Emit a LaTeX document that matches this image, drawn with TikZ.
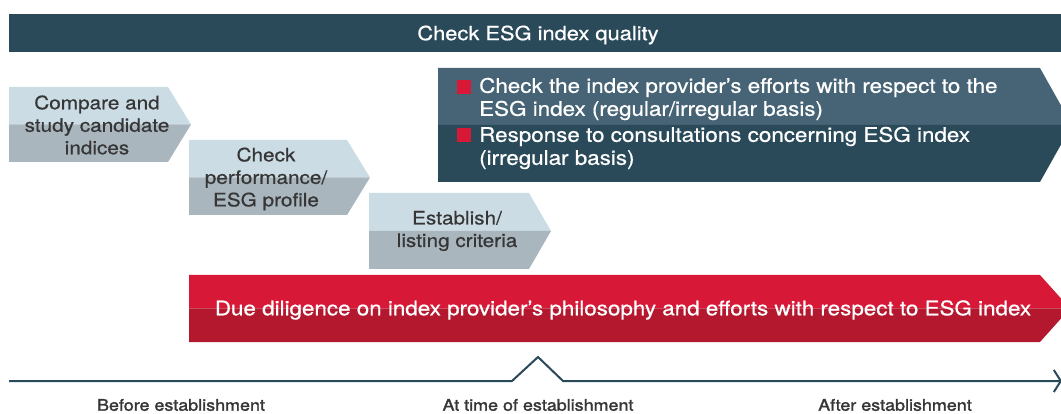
\documentclass[tikz,border=0pt]{standalone}
\usepackage{fontspec}
\setmainfont{TeX Gyre Heros}[FakeStretch=1.12,FakeBold=0.6]
\newfontfamily\phasefont{TeX Gyre Heros}[FakeStretch=1.12,FakeBold=1.6]
\usetikzlibrary{arrows.meta,positioning}
\definecolor{esgdark}{HTML}{2A4A5A}
\definecolor{esgmid}{HTML}{466475}
\definecolor{esglight}{HTML}{CBDCE5}
\definecolor{esggray}{HTML}{A9B6BD}
\definecolor{esgred}{HTML}{D71837}
\definecolor{esgdeepred}{HTML}{B4182F}
\definecolor{esgtext}{HTML}{363636}
% two-tone chevron: left, top, body right, tip, bottom, upper colour, lower colour
\newcommand{\chevronfill}[7]{%
  \fill[#6] (#1,#2) -- (#3,#2) -- (#4,{(#2+#5)/2}) -- (#1,{(#2+#5)/2}) -- cycle;
  \fill[#7] (#1,{(#2+#5)/2}) -- (#4,{(#2+#5)/2}) -- (#3,#5) -- (#1,#5) -- cycle;}
\tikzset{
  steptxt/.style={font=\fontsize{18.5}{22.5}\selectfont,text=esgtext,align=center,inner sep=0pt},
  wtxt/.style={font=\fontsize{20}{23}\selectfont,text=white,inner sep=0pt},
  itemtxt/.style={wtxt,align=left,anchor=west},
  bullet/.style={rectangle,fill=esgred,minimum size=14pt,inner sep=0pt},
  phaselbl/.style={font=\phasefont\fontsize{16}{18}\selectfont,text=esgtext,inner sep=0pt},
  timeline/.style={draw=esgdark,line width=2pt}
}
\begin{document}
\begin{tikzpicture}[x=1pt,y=-1pt]
  \clip (0,0) rectangle (1061,414);

  % header bar
  \fill[esgdark] (9,14) rectangle (1061,52);
  \node[wtxt,font=\fontsize{19.5}{23}\selectfont] (quality) at (538,35) {Check ESG index quality};

  % steps before establishment
  \chevronfill{9}{87}{168}{191}{162}{esglight}{esggray}
  \node[steptxt] (compare) at (97,125) {Compare and\\study candidate\\indices};
  \chevronfill{189}{140}{347}{370}{215}{esglight}{esggray}
  \node[steptxt] (perf) at (266,179) {Check\\performance/\\ESG profile};
  \chevronfill{369}{193}{529}{551}{269}{esglight}{esggray}
  \node[steptxt] (listing) at (457,231) {Establish/\\listing criteria};

  % ongoing checks
  \chevronfill{438}{68}{1040}{1072}{182}{esgmid}{esgdark}
  \node[bullet] (b1) at (464,87.5) {};
  \node[itemtxt] (efforts) at (479,99) {Check the index provider’s efforts with respect to the\\ESG index (regular/irregular basis)};
  \node[bullet] (b2) at (464,135.5) {};
  \node[itemtxt] (consult) at (479,148) {Response to consultations concerning ESG index\\(irregular basis)};

  % due diligence
  \chevronfill{189}{275}{1040}{1070}{342}{esgred}{esgdeepred}
  \node[wtxt] (dd) at (623,310) {Due diligence on index provider’s philosophy and efforts with respect to ESG index};

  % time axis
  \coordinate (t0) at (9,381);
  \coordinate (bumpl) at (512,381);
  \coordinate (bumptop) at (538,357);
  \coordinate (bumpr) at (563,381);
  \coordinate (t1) at (1062,381);
  \draw[timeline,-{Straight Barb[length=7pt,width=22pt]}] (t0) -- (bumpl) -- (bumptop) -- (bumpr) -- (t1);

  \node[phaselbl] (before) at (181,405) {Before establishment};
  \node[phaselbl] (at) at (538,405) {At time of establishment};
  \node[phaselbl] (after) at (895,405) {After establishment};
\end{tikzpicture}
\end{document}
